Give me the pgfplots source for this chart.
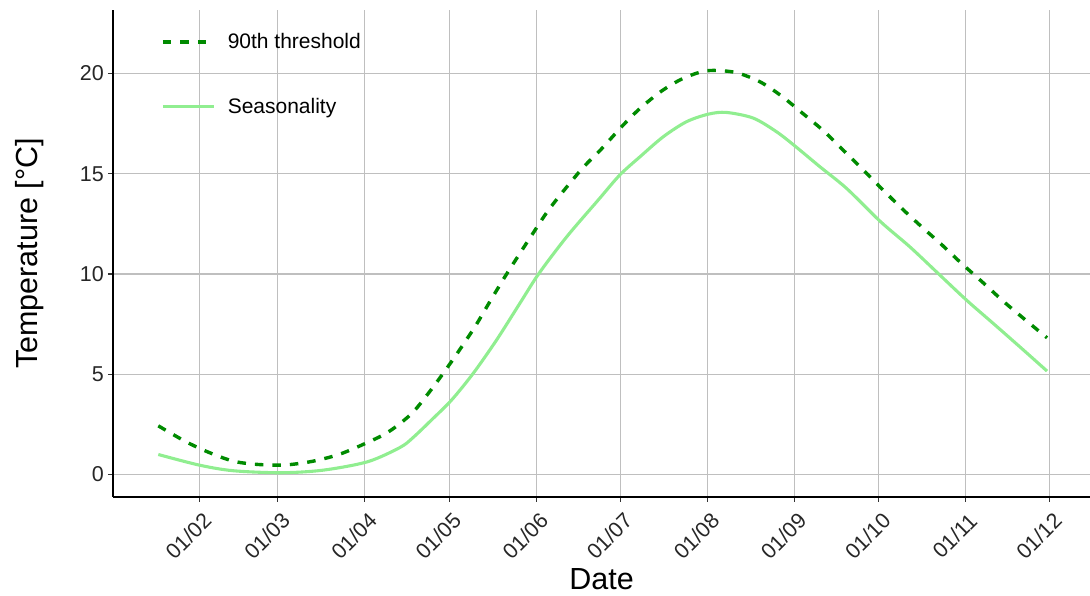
\documentclass[border=0pt]{standalone}
\usepackage{pgfplots}
\pgfplotsset{compat=1.18}
\usepackage{fontspec}
\setmainfont{Liberation Sans}
\definecolor{thr}{HTML}{008B00}
\definecolor{seas}{HTML}{90EE90}
\definecolor{grid}{HTML}{CCCCCC}
\definecolor{tickc}{HTML}{333333}
\begin{document}
\begin{tikzpicture}
\useasboundingbox (-113pt,-99pt) rectangle (977pt,497pt);
\begin{axis}[
  scale only axis,
  width=977pt, height=487pt,
  xmin=0.26, xmax=348.3,
  ymin=-1.12, ymax=23.17,
  axis x line*=bottom, axis y line*=left,
  axis line style={-, line width=1.1pt, black},
  xtick={31,59,90,120,151,181,212,243,273,304,334},
  xticklabels={01/02,01/03,01/04,01/05,01/06,01/07,01/08,01/09,01/10,01/11,01/12},
  ytick={0,5,10,15,20},
  grid=major,
  major grid style={grid, line width=1.1pt},
  tick align=outside,
  major tick length=5pt,
  tick style={tickc, line width=1.1pt},
  minor tick num=0,
  /pgf/number format/assume math mode=true,
  tick label style={font=\fontsize{21.5}{24}\selectfont, text=black!85},
  xticklabel style={xshift=-11pt, yshift=-34pt, rotate=45, anchor=center, inner sep=0pt},
  yticklabel style={anchor=east, inner sep=0pt, xshift=-4pt},
  xlabel={Date},
  ylabel={Temperature [°C]},
  label style={font=\fontsize{30.5}{34}\selectfont},
  xlabel style={at={(axis description cs:0.5,-0.1895)}, anchor=base, inner sep=0pt},
  ylabel style={at={(axis description cs:-0.0706,0.5)}, anchor=south, inner sep=0pt},
  legend style={at={(axis description cs:0.049,0.956)}, anchor=north west, draw=none, fill=none,
    font=\fontsize{21}{24}\selectfont, row sep=44pt, inner sep=0pt,
    nodes={inner sep=2pt}},
  legend cell align=left,
  legend image code/.code={\draw[#1] (0pt,0pt) -- (51pt,0pt); \path[draw=none,fill=none] (0pt,0pt) -- (63pt,0pt);},
  clip=false,
]
\addplot[seas, line width=3.1pt, smooth, forget plot] coordinates {
(16.4,1.0) (31,0.47) (43.1,0.19) (60.2,0.09) (75.2,0.22) (91,0.64) (102.5,1.35)
(107.2,1.85) (114.3,2.8) (120.9,3.72) (128.6,5.05) (136.9,6.71) (145.2,8.54)
(152,10.03) (161.9,11.86) (173.1,13.69) (180.8,14.94) (188,15.85) (196.3,16.85)
(204.6,17.6) (212.5,17.98) (218.8,18.06) (228.3,17.78) (236.6,17.1) (243.5,16.35)
(252.1,15.35) (261.6,14.27) (273.7,12.61) (284.1,11.36) (294.2,10.03) (304.3,8.70)
(313.8,7.54) (323.3,6.37) (333,5.16)
};
\addplot[thr, line width=3.4pt, smooth, dash pattern=on 8.5pt off 9pt] coordinates {
(16.4,2.43) (26.2,1.64) (34.5,1.10) (43.3,0.66) (52.2,0.50) (61.8,0.48) (71.3,0.66)
(80.7,1.0) (89.5,1.51) (98.2,2.11) (106.5,3.02) (112.6,4.05) (117.9,5.05) (123.3,6.13)
(129.2,7.37) (134.5,8.62) (139.9,9.87) (145.2,11.03) (150.6,12.19) (156.3,13.36)
(167,15.2) (174,16.2) (182,17.43) (188,18.26) (195.7,19.13) (203.4,19.76)
(211.9,20.14) (221.8,20.06) (230.7,19.59) (238.4,18.88) (245.9,18.02) (253.3,17.15)
(260.6,16.15) (267.5,15.19) (274.6,14.19) (281.2,13.28) (288.3,12.36) (295.2,11.50)
(302.3,10.56) (310.2,9.57) (317.6,8.62) (325.3,7.71) (333,6.82)
};
\addlegendentry{90th threshold}
\addlegendimage{seas, line width=3.1pt}
\addlegendentry{Seasonality}
\end{axis}
\end{tikzpicture}
\end{document}
